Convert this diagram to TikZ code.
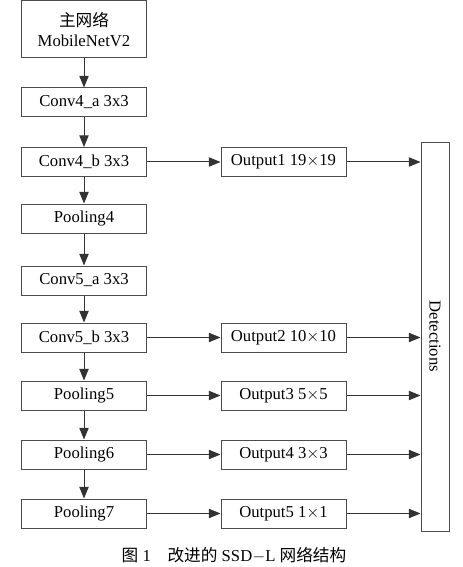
\documentclass[tikz,border=0pt]{standalone}
\usepackage{fontspec}
\setmainfont{Liberation Serif}
\newfontfamily\cjk{Noto Sans CJK SC}
\usepackage{tikz}
\usetikzlibrary{arrows.meta}

\tikzset{
  layer/.style={draw=black!70, line width=0.6pt, minimum width=75pt,
    minimum height=17.4pt, inner sep=1pt},
  flow/.style={draw=black!80, line width=0.6pt,
    -{Triangle[length=7pt,width=5.6pt]}}
}

\begin{document}
\begin{tikzpicture}[x=0.6pt,y=-0.6pt]
    \useasboundingbox (0,0) rectangle (463,567);
    % backbone column
    \node[layer, minimum height=34.2pt, align=center] (backbone) at (84,29.5)
      {{\cjk 主网络}\\MobileNetV2};
    \node[layer] (conva4) at (84,102.5) {Conv4\_a 3x3};
    \node[layer] (convb4) at (84,162) {Conv4\_b 3x3};
    \node[layer] (pool4) at (84,218.5) {Pooling4};
    \node[layer] (conva5) at (84,280.5) {Conv5\_a 3x3};
    \node[layer] (convb5) at (84,337.5) {Conv5\_b 3x3};
    \node[layer] (pool5) at (84,395.5) {Pooling5};
    \node[layer] (pool6) at (84,454.5) {Pooling6};
    \node[layer] (pool7) at (84,513.5) {Pooling7};
    \draw[flow] (backbone) -- (conva4);
    \draw[flow] (conva4) -- (convb4);
    \draw[flow] (convb4) -- (pool4);
    \draw[flow] (pool4) -- (conva5);
    \draw[flow] (conva5) -- (convb5);
    \draw[flow] (convb5) -- (pool5);
    \draw[flow] (pool5) -- (pool6);
    \draw[flow] (pool6) -- (pool7);
    % output branches
    \node[layer] (outa) at (283.5,162) {Output1 19$\times$19};
    \node[layer] (outb) at (283.5,337.5) {Output2 10$\times$10};
    \node[layer] (outc) at (283.5,395.5) {Output3 5$\times$5};
    \node[layer] (outd) at (283.5,454.5) {Output4 3$\times$3};
    \node[layer] (oute) at (283.5,513.5) {Output5 1$\times$1};
    \draw[flow] (convb4) -- (outa);
    \draw[flow] (convb5) -- (outb);
    \draw[flow] (pool5) -- (outc);
    \draw[flow] (pool6) -- (outd);
    \draw[flow] (pool7) -- (oute);
    % detections
    \node[layer, minimum width=16.8pt, minimum height=233.4pt] (detect)
      at (435,336.5) {};
    \node[rotate=-90] (detlabel) at (detect.center) {Detections};
    \draw[flow] (outa) -- (outa -| detect.west);
    \draw[flow] (outb) -- (outb -| detect.west);
    \draw[flow] (outc) -- (outc -| detect.west);
    \draw[flow] (outd) -- (outd -| detect.west);
    \draw[flow] (oute) -- (oute -| detect.west);
    % caption
    \node (caption) at (234,555) {{\cjk 图}~1\quad{\cjk 改进的} SSD$-$L {\cjk 网络结构}};
\end{tikzpicture}
\end{document}
